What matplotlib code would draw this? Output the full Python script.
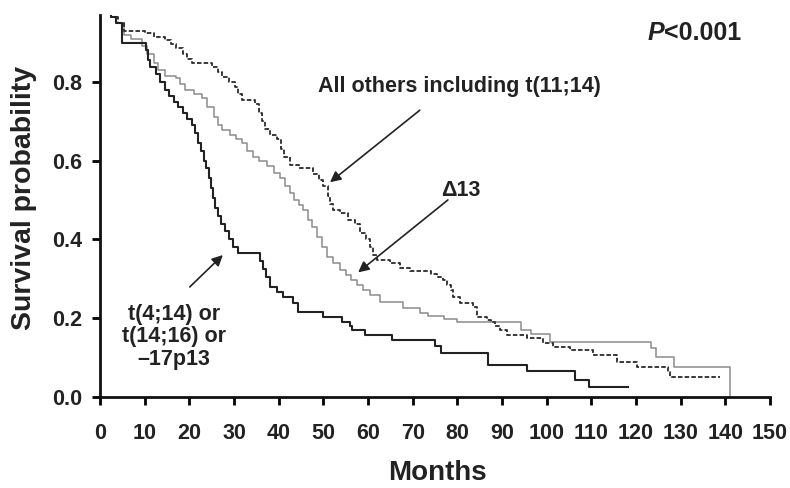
import matplotlib
matplotlib.use("Agg")
import matplotlib.pyplot as plt

plt.rcParams['font.family'] = ['Liberation Sans', 'DejaVu Sans']
plt.rcParams['font.weight'] = 'bold'

# t(4;14) or t(14;16) or -17p13
hr_t = [0, 2.5, 3.5, 5, 10.3, 10.8, 11.3, 12.5, 13.5, 14.5, 15.5, 16.5, 17.5, 18.5,
        19.5, 20.5, 21.3, 22, 22.6, 23.2, 23.8, 24.3, 24.8, 25.3, 25.8, 26.5, 27.2,
        28, 28.8, 29.8, 30.8, 35.8, 36.5, 37.2, 38, 39.6, 41, 43.2, 44.3, 50, 54.2,
        56, 56.5, 59.3, 65.4, 75, 76.4, 86.8, 95.6, 106.3, 109.5, 118.2]
hr_s = [0.975, 0.965, 0.95, 0.90, 0.88, 0.855, 0.837, 0.82, 0.80, 0.78, 0.765, 0.75,
        0.735, 0.72, 0.705, 0.69, 0.67, 0.645, 0.625, 0.60, 0.58, 0.555, 0.53, 0.505,
        0.48, 0.46, 0.44, 0.42, 0.40, 0.38, 0.365, 0.345, 0.325, 0.305, 0.28, 0.266,
        0.253, 0.237, 0.215, 0.203, 0.19, 0.18, 0.169, 0.157, 0.143, 0.128, 0.111,
        0.08, 0.066, 0.042, 0.025, 0.025]

# delta 13
d13_t = [0, 2.5, 3.5, 5.3, 7, 9.5, 10.5, 12, 13, 14.5, 17, 18, 19, 21, 22.8, 24, 25.5,
         26.5, 27.3, 29, 30.5, 31.8, 33, 34.3, 35.5, 37.4, 39, 40.3, 41.5, 42.5, 43.5,
         44.5, 45.4, 46.5, 47.5, 48.6, 49.7, 50.8, 52.2, 53.7, 55, 56.2, 57.5, 58.9,
         60.4, 62.7, 67.8, 71.6, 73.5, 77, 79.9, 94.3, 96.5, 100.8, 123.3, 124.6,
         128.5, 141, 141]
d13_s = [0.975, 0.965, 0.95, 0.92, 0.91, 0.89, 0.87, 0.847, 0.83, 0.815, 0.81, 0.795,
         0.78, 0.77, 0.76, 0.735, 0.71, 0.69, 0.677, 0.665, 0.655, 0.644, 0.625, 0.609,
         0.598, 0.585, 0.568, 0.555, 0.535, 0.517, 0.50, 0.487, 0.474, 0.45, 0.43,
         0.406, 0.38, 0.355, 0.339, 0.322, 0.308, 0.296, 0.283, 0.27, 0.258, 0.24,
         0.225, 0.212, 0.205, 0.198, 0.19, 0.17, 0.16, 0.14, 0.124, 0.101, 0.076,
         0.076, 0.0]

# all others including t(11;14)
oth_t = [0, 2.5, 4, 5.3, 10, 12, 14.6, 16, 17, 18.5, 19.5, 20.6, 25, 26.5, 27.3, 28.8,
         30.2, 31, 31.8, 34.7, 35.5, 36.2, 36.9, 38, 39.6, 40.5, 41.2, 42.5, 44.5,
         47.7, 49, 50, 51, 51.5, 52.2, 53.7, 55.5, 57, 58.2, 59.5, 60.4, 61.2, 62, 65,
         67.2, 69.4, 74, 75.5, 76.8, 77.7, 78.5, 79, 80.6, 83.5, 84.4, 86.6, 87.5,
         88.5, 89.5, 91.1, 95.6, 99.2, 101.4, 105.2, 110.4, 115.7, 120.2, 127.2,
         127.6, 138.8]
oth_s = [0.975, 0.965, 0.95, 0.93, 0.925, 0.915, 0.906, 0.895, 0.885, 0.87, 0.858,
         0.847, 0.837, 0.825, 0.812, 0.80, 0.787, 0.77, 0.755, 0.745, 0.72, 0.70, 0.68,
         0.665, 0.655, 0.63, 0.61, 0.59, 0.58, 0.567, 0.55, 0.535, 0.51, 0.49, 0.475,
         0.466, 0.45, 0.44, 0.415, 0.40, 0.38, 0.36, 0.347, 0.339, 0.326, 0.32, 0.313,
         0.304, 0.296, 0.285, 0.27, 0.253, 0.237, 0.228, 0.203, 0.195, 0.19, 0.18,
         0.17, 0.157, 0.149, 0.136, 0.127, 0.119, 0.106, 0.088, 0.076, 0.063, 0.05,
         0.05]

x_ticks = list(range(0, 151, 10))
y_ticks = [0.0, 0.2, 0.4, 0.6, 0.8]
y_tick_labels = ['0.0', '0.2', '0.4', '0.6', '0.8']

fig = plt.figure(figsize=(7.9, 4.88), dpi=100)
ax = fig.add_axes([0.1266, 0.1871, 0.848, 0.7822])

ax.plot(d13_t, d13_s, drawstyle='steps-post', color='#8c8c8c', lw=1.1)
ax.plot(oth_t, oth_s, drawstyle='steps-post', color='#2a2a2a', lw=1.3,
        linestyle=(0, (2.5, 1.2)))
ax.plot(hr_t, hr_s, drawstyle='steps-post', color='#222222', lw=1.5)

ax.set_xlim(0, 150)
ax.set_ylim(0, 0.97)
ax.set_xticks(x_ticks)
ax.set_yticks(y_ticks)
ax.set_yticklabels(y_tick_labels)

for s in ['top', 'right']:
    ax.spines[s].set_visible(False)
for s in ['left', 'bottom']:
    ax.spines[s].set_linewidth(2)
    ax.spines[s].set_color('#111111')

ax.tick_params(axis='x', direction='out', length=6, width=2, pad=13, labelsize=15.5)
ax.tick_params(axis='y', direction='out', length=6, width=2, pad=7, labelsize=15.5)
for lab in ax.get_xticklabels() + ax.get_yticklabels():
    lab.set_fontweight('bold')
    lab.set_color('#222222')

ax.set_xlabel('Months', fontsize=20, fontweight='bold', color='#222222')
ax.set_ylabel('Survival probability', fontsize=20.5, fontweight='bold', color='#222222')
ax.xaxis.set_label_coords(0.503, -0.165)
ax.yaxis.set_label_coords(-0.094, 0.52)

ax.text(126.3, 0.923, 'P', fontsize=18, fontweight='bold', style='italic',
        ha='right', va='center', color='#222222')
ax.text(126.3, 0.923, '<0.001', fontsize=18, fontweight='bold',
        ha='left', va='center', color='#222222')

arrow = dict(arrowstyle='-|>', color='#222222', lw=1.2, mutation_scale=16,
             shrinkA=0, shrinkB=0)
ax.text(80.4, 0.789, 'All others including t(11;14)', fontsize=15.5, fontweight='bold',
        ha='center', va='center', color='#222222')
ax.annotate('', xy=(51.5, 0.545), xytext=(71.6, 0.728), arrowprops=arrow)

ax.text(80.8, 0.525, '\u039413', fontsize=15.5, fontweight='bold',
        ha='center', va='center', color='#222222')
ax.annotate('', xy=(57.8, 0.316), xytext=(77.9, 0.5), arrowprops=arrow)

ax.text(16.6, 0.152, 't(4;14) or\nt(14;16) or\n\u201317p13', fontsize=15.5,
        fontweight='bold', ha='center', va='center', color='#222222',
        linespacing=1.1)
ax.annotate('', xy=(27.5, 0.36), xytext=(20.1, 0.279), arrowprops=arrow)

fig.savefig('out.png', dpi=100)
